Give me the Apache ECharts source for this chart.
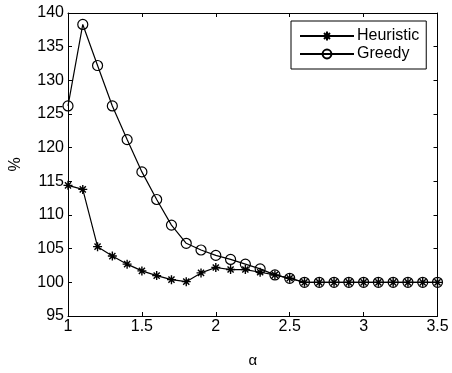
<!DOCTYPE html>
<html><head><meta charset="utf-8">
<script src="https://cdn.jsdelivr.net/npm/echarts@6/dist/echarts.min.js"></script>
<style>html,body{margin:0;padding:0;background:#fff}#c{width:452px;height:373px}</style>
</head><body><div id="c"></div>
<script>
const alpha = [1.0,1.1,1.2,1.3,1.4,1.5,1.6,1.7,1.8,1.9,2.0,2.1,2.2,2.3,2.4,2.5,2.6,2.7,2.8,2.9,3.0,3.1,3.2,3.3,3.4,3.5];
const heuristic = [114.4,113.8,105.3,103.9,102.7,101.7,101.0,100.4,100.1,101.4,102.2,101.9,101.9,101.5,101.1,100.6,100,100,100,100,100,100,100,100,100,100];
const greedy = [126.2,138.3,132.2,126.2,121.2,116.4,112.3,108.5,105.8,104.8,104.0,103.4,102.7,102.0,101.1,100.6,100,100,100,100,100,100,100,100,100,100];
const xTicks = [1,1.5,2,2.5,3,3.5];
const yTicks = [95,100,105,110,115,120,125,130,135,140];

const FONT = 'Liberation Sans, Arial, Helvetica, sans-serif';
const star = 'path://M5,0 L5,10 M0,5 L10,5 M1.6,1.6 L8.4,8.4 M1.6,8.4 L8.4,1.6';
const chart = echarts.init(document.getElementById('c'), null, {renderer:'canvas'});
const axisCommon = {
  axisLine:{show:true, onZero:false, lineStyle:{color:'#000', width:1}},
  axisTick:{show:true, inside:true, length:4, lineStyle:{color:'#000'}},
  splitLine:{show:false}
};
chart.setOption({
  animation:false,
  backgroundColor:'#fff',
  grid:{left:66, right:14.5, top:13, bottom:45, containLabel:false},
  legend:{
    orient:'vertical', left:291, top:21,
    padding:[7,7,7,8], itemGap:2, itemWidth:54, itemHeight:11,
    borderColor:'#000', borderWidth:1, backgroundColor:'#fff',
    textStyle:{fontFamily:FONT, fontSize:16, color:'#000', padding:[0,0,0,-2]},
    data:['Heuristic','Greedy']
  },
  xAxis:[
    Object.assign({type:'value', min:xTicks[0], max:xTicks[xTicks.length-1], interval:0.5,
      name:'α', nameLocation:'middle', nameGap:37,
      nameTextStyle:{fontFamily:FONT, fontSize:15, color:'#000'},
      axisLabel:{fontFamily:FONT, fontSize:16, color:'#000', margin:3,
        formatter:v=>xTicks.indexOf(v)>=0?String(v):''}}, axisCommon),
    Object.assign({type:'value', position:'top', min:1, max:3.5, interval:0.5,
      axisLabel:{show:false}}, axisCommon)
  ],
  yAxis:[
    Object.assign({type:'value', min:yTicks[0], max:yTicks[yTicks.length-1], interval:5,
      name:'%', nameLocation:'middle', nameGap:44, nameRotate:90,
      nameTextStyle:{fontFamily:FONT, fontSize:16, color:'#000'},
      axisLabel:{fontFamily:FONT, fontSize:16, color:'#000', margin:4}}, axisCommon),
    Object.assign({type:'value', position:'right', min:95, max:140, interval:5,
      axisLabel:{show:false}}, axisCommon)
  ],
  series:[
    {name:'Heuristic', type:'line', data:alpha.map((a,i)=>[a,heuristic[i]]),
      symbol:star, symbolSize:9, showAllSymbol:true,
      lineStyle:{color:'#000', width:1.2},
      itemStyle:{color:'#000', borderColor:'#000', borderWidth:1.4}},
    {name:'Greedy', type:'line', data:alpha.map((a,i)=>[a,greedy[i]]),
      symbol:'circle', symbolSize:10, showAllSymbol:true,
      lineStyle:{color:'#000', width:1.2},
      itemStyle:{color:'rgba(0,0,0,0)', borderColor:'#000', borderWidth:1.2}}
  ]
});
</script></body></html>
